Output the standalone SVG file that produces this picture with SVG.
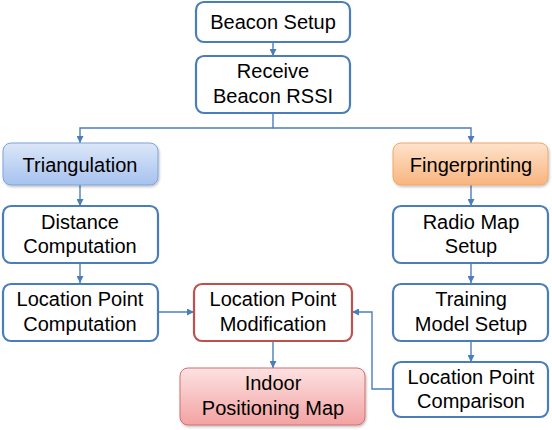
<svg xmlns="http://www.w3.org/2000/svg" width="552" height="430" viewBox="0 0 552 430">
<style>
.box{fill:#fff;stroke:#4a7ebb;stroke-width:2.2}
.red{fill:#fff;stroke:#c0504d;stroke-width:2.2}
.tri{fill:url(#gBlue);stroke:#7fa3d8;stroke-width:1}
.fin{fill:url(#gOrange);stroke:#f0a868;stroke-width:1}
.ind{fill:url(#gRed);stroke:#d07070;stroke-width:1}
.t{font-family:"Liberation Sans",Arial,sans-serif;font-size:20px;fill:#000;text-anchor:middle}
.c{fill:none;stroke:#4a7ebb;stroke-width:1.4}
</style>
<defs>
<linearGradient id="gBlue" x1="0" y1="0" x2="0" y2="1"><stop offset="0" stop-color="#dce7f8"/><stop offset="1" stop-color="#a6c2ee"/></linearGradient>
<linearGradient id="gOrange" x1="0" y1="0" x2="0" y2="1"><stop offset="0" stop-color="#fee3cc"/><stop offset="1" stop-color="#f9b47e"/></linearGradient>
<linearGradient id="gRed" x1="0" y1="0" x2="0" y2="1"><stop offset="0" stop-color="#fde2e2"/><stop offset="1" stop-color="#f3a2a2"/></linearGradient>
<marker id="ar" viewBox="0 0 10 10" refX="10" refY="5" markerWidth="7" markerHeight="7" markerUnits="userSpaceOnUse" orient="auto"><path d="M0,0 L10,5 L0,10 z" fill="#4a7ebb"/></marker>
<filter id="sh" x="-10%" y="-10%" width="120%" height="130%"><feDropShadow dx="1" dy="1.5" stdDeviation="1" flood-color="#000" flood-opacity="0.25"/></filter>
</defs>
<g id="connectors">
<line class="c" x1="273" y1="42" x2="273" y2="56" marker-end="url(#ar)"/>
<polyline class="c" points="273,113 273,128 80,128 80,143" marker-end="url(#ar)"/>
<polyline class="c" points="273,128 471,128 471,143" marker-end="url(#ar)"/>
<line class="c" x1="80" y1="185" x2="80" y2="206" marker-end="url(#ar)"/>
<line class="c" x1="80" y1="263" x2="80" y2="283" marker-end="url(#ar)"/>
<line class="c" x1="471" y1="185" x2="471" y2="206" marker-end="url(#ar)"/>
<line class="c" x1="471" y1="263" x2="471" y2="283" marker-end="url(#ar)"/>
<line class="c" x1="471" y1="341" x2="471" y2="362" marker-end="url(#ar)"/>
<line class="c" x1="158" y1="312" x2="194" y2="312" marker-end="url(#ar)"/>
<line class="c" x1="273" y1="341" x2="273" y2="368" marker-end="url(#ar)"/>
<polyline class="c" points="393,389 372,389 372,312 352,312" marker-end="url(#ar)"/>
</g>
<g id="beacon-setup"><rect class="box" x="196" y="2" width="154" height="40" rx="8"/><text class="t" x="273" y="28.5">Beacon Setup</text></g>
<g id="receive-rssi"><rect class="box" x="196" y="56" width="154" height="57" rx="8"/><text class="t" x="273" y="78">Receive</text><text class="t" x="273" y="103">Beacon RSSI</text></g>
<g id="triangulation"><rect class="tri" x="3" y="143" width="155" height="42" rx="8" filter="url(#sh)"/><text class="t" x="80" y="171.5">Triangulation</text></g>
<g id="fingerprinting"><rect class="fin" x="393" y="143" width="155" height="42" rx="8" filter="url(#sh)"/><text class="t" x="471" y="171.5">Fingerprinting</text></g>
<g id="distance-computation"><rect class="box" x="3" y="206" width="155" height="57" rx="8"/><text class="t" x="80" y="228.5">Distance</text><text class="t" x="80" y="253">Computation</text></g>
<g id="radio-map-setup"><rect class="box" x="393" y="206" width="155" height="57" rx="8"/><text class="t" x="471" y="228.5">Radio Map</text><text class="t" x="471" y="253">Setup</text></g>
<g id="location-point-computation"><rect class="box" x="3" y="284" width="155" height="57" rx="8"/><text class="t" x="80" y="306">Location Point</text><text class="t" x="80" y="331">Computation</text></g>
<g id="location-point-modification"><rect class="red" x="194" y="284" width="158" height="57" rx="8"/><text class="t" x="273" y="306">Location Point</text><text class="t" x="273" y="331">Modification</text></g>
<g id="training-model-setup"><rect class="box" x="393" y="284" width="155" height="57" rx="8"/><text class="t" x="471" y="306">Training</text><text class="t" x="471" y="331">Model Setup</text></g>
<g id="location-point-comparison"><rect class="box" x="393" y="362" width="155" height="55" rx="8"/><text class="t" x="471" y="383.5">Location Point</text><text class="t" x="471" y="408">Comparison</text></g>
<g id="indoor-positioning-map"><rect class="ind" x="180" y="368" width="185" height="57" rx="8" filter="url(#sh)"/><text class="t" x="273" y="390">Indoor</text><text class="t" x="273" y="415">Positioning Map</text></g>
</svg>
